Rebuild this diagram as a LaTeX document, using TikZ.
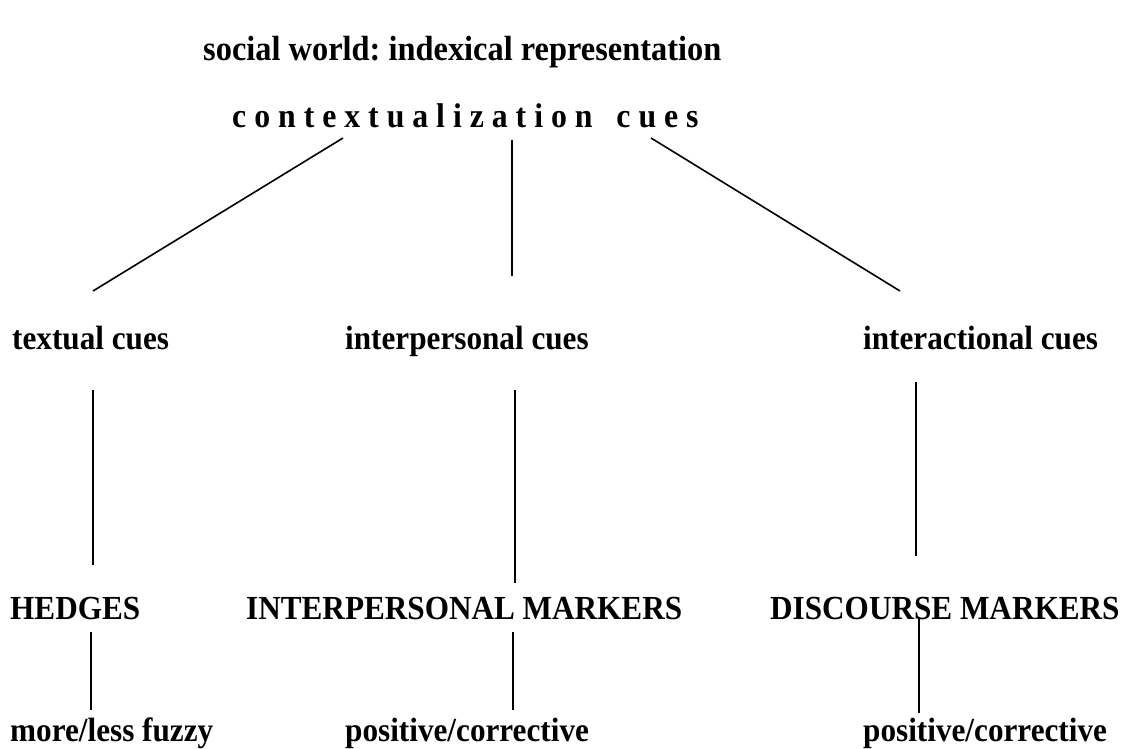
\documentclass[tikz,border=0pt]{standalone}
\usepackage{fontspec}
\usepackage{graphicx}
\setmainfont{Liberation Serif}
\frenchspacing
\newcommand{\tall}[1]{\scalebox{1}[1.08]{#1}}
\begin{document}
\begin{tikzpicture}[x=1pt,y=-1pt,
  lbl/.style={anchor=base west,inner sep=0pt,font=\fontsize{31.2}{36}\selectfont\bfseries},
  big/.style={lbl,font=\fontsize{32.4}{38}\selectfont\bfseries},
  conn/.style={line width=1.6pt,black}]
\useasboundingbox (0,0) rectangle (1124,749);
% texts
\node[big] (title) at (203,61) {\tall{social world: indexical representation}};
\node[lbl,font=\fontsize{31.8}{38}\selectfont\bfseries] (ctx) at (232,128) {\tall{c o n t e x t u a l i z a t i o n \ \ c u e s}};
\node[lbl] (tc) at (12,349) {\tall{textual cues}};
\node[lbl] (ic) at (345,349) {\tall{interpersonal cues}};
\node[lbl] (ac) at (863,349) {\tall{interactional cues}};
\node[lbl] (hd) at (10,619) {\tall{HEDGES}};
\node[lbl] (im) at (246,619) {\tall{INTERPERSONAL MARKERS}};
\node[lbl] (dm) at (770,619) {\tall{DISCOURSE MARKERS}};
\node[lbl] (fz) at (10,741) {\tall{more/less fuzzy}};
\node[lbl] (pc1) at (345,741) {\tall{positive/corrective}};
\node[lbl] (pc2) at (863,741) {\tall{positive/corrective}};
% connector ends
\coordinate (c1a) at (343,138); \coordinate (c1b) at (93,291);
\coordinate (c2a) at (512,140); \coordinate (c2b) at (512,276);
\coordinate (c3a) at (651,138); \coordinate (c3b) at (900,291);
\coordinate (t1a) at (93,390);  \coordinate (t1b) at (93,565);
\coordinate (t2a) at (515,390); \coordinate (t2b) at (515,583);
\coordinate (t3a) at (916,382); \coordinate (t3b) at (916,556);
\coordinate (b1a) at (91,632);  \coordinate (b1b) at (91,710);
\coordinate (b2a) at (513,632); \coordinate (b2b) at (513,710);
\coordinate (b3a) at (919,617); \coordinate (b3b) at (919,713);
\draw[conn] (c1a) -- (c1b);
\draw[conn] (c2a) -- (c2b);
\draw[conn] (c3a) -- (c3b);
\draw[conn] (t1a) -- (t1b);
\draw[conn] (t2a) -- (t2b);
\draw[conn] (t3a) -- (t3b);
\draw[conn] (b1a) -- (b1b);
\draw[conn] (b2a) -- (b2b);
\draw[conn] (b3a) -- (b3b);
\end{tikzpicture}
\end{document}
